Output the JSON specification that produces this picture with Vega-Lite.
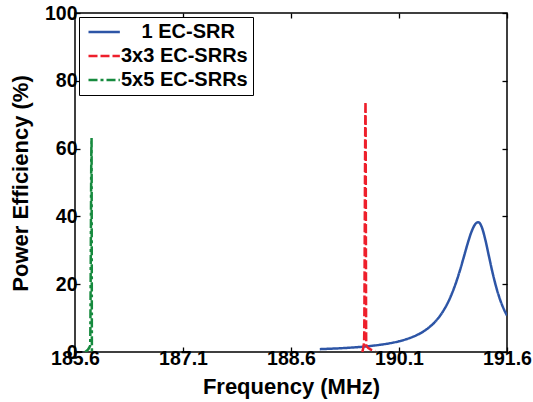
{
  "$schema": "https://vega.github.io/schema/vega-lite/v6.json",
  "width": 432,
  "height": 339,
  "autosize": "none",
  "padding": {"left": 75, "top": 13, "right": 26, "bottom": 50},
  "background": "white",
  "config": {
    "font": "Liberation Sans",
    "view": {"stroke": "black", "strokeWidth": 1.5},
    "axis": {
      "domain": false,
      "grid": false,
      "tickColor": "black",
      "tickSize": -5,
      "tickWidth": 1.3,
      "labelFont": "Liberation Sans",
      "labelFontWeight": "bold",
      "labelFontSize": 19.5,
      "labelColor": "black",
      "labelFlush": false,
      "labelOverlap": false,
      "titleFont": "Liberation Sans",
      "titleFontWeight": "bold",
      "titleFontSize": 22,
      "titleColor": "black"
    },
    "legend": {
      "orient": "none",
      "legendX": 4,
      "legendY": 4,
      "strokeColor": "black",
      "fillColor": "white",
      "padding": 5,
      "cornerRadius": 0,
      "labelFont": "Liberation Sans",
      "labelFontWeight": "bold",
      "labelFontSize": 20,
      "labelColor": "black",
      "labelOffset": 17,
      "rowPadding": 4,
      "symbolType": "M-1,0H4.7",
      "symbolSize": 121,
      "symbolStrokeWidth": 2.5,
      "title": null
    }
  },
  "data": {
    "values": [
      {"f": 189.0, "p": 0.84, "s": "1 EC-SRR"},
      {"f": 189.15, "p": 0.97, "s": "1 EC-SRR"},
      {"f": 189.3, "p": 1.12, "s": "1 EC-SRR"},
      {"f": 189.45, "p": 1.32, "s": "1 EC-SRR"},
      {"f": 189.6, "p": 1.56, "s": "1 EC-SRR"},
      {"f": 189.75, "p": 1.89, "s": "1 EC-SRR"},
      {"f": 189.9, "p": 2.32, "s": "1 EC-SRR"},
      {"f": 190.0, "p": 2.69, "s": "1 EC-SRR"},
      {"f": 190.1, "p": 3.16, "s": "1 EC-SRR"},
      {"f": 190.2, "p": 3.76, "s": "1 EC-SRR"},
      {"f": 190.3, "p": 4.54, "s": "1 EC-SRR"},
      {"f": 190.4, "p": 5.57, "s": "1 EC-SRR"},
      {"f": 190.5, "p": 6.96, "s": "1 EC-SRR"},
      {"f": 190.6, "p": 8.89, "s": "1 EC-SRR"},
      {"f": 190.7, "p": 11.62, "s": "1 EC-SRR"},
      {"f": 190.8, "p": 15.51, "s": "1 EC-SRR"},
      {"f": 190.9, "p": 20.97, "s": "1 EC-SRR"},
      {"f": 190.95, "p": 24.33, "s": "1 EC-SRR"},
      {"f": 191.0, "p": 28.0, "s": "1 EC-SRR"},
      {"f": 191.05, "p": 31.74, "s": "1 EC-SRR"},
      {"f": 191.1, "p": 35.08, "s": "1 EC-SRR"},
      {"f": 191.15, "p": 37.44, "s": "1 EC-SRR"},
      {"f": 191.175, "p": 38.08, "s": "1 EC-SRR"},
      {"f": 191.2, "p": 38.3, "s": "1 EC-SRR"},
      {"f": 191.225, "p": 37.92, "s": "1 EC-SRR"},
      {"f": 191.25, "p": 36.83, "s": "1 EC-SRR"},
      {"f": 191.3, "p": 33.02, "s": "1 EC-SRR"},
      {"f": 191.35, "p": 28.16, "s": "1 EC-SRR"},
      {"f": 191.4, "p": 23.35, "s": "1 EC-SRR"},
      {"f": 191.45, "p": 19.15, "s": "1 EC-SRR"},
      {"f": 191.5, "p": 15.7, "s": "1 EC-SRR"},
      {"f": 191.55, "p": 12.94, "s": "1 EC-SRR"},
      {"f": 191.6, "p": 10.76, "s": "1 EC-SRR"},
      {"f": 189.59, "p": 0, "s": "3x3 EC-SRRs"},
      {"f": 189.615, "p": 3, "s": "3x3 EC-SRRs"},
      {"f": 189.635, "p": 73.7, "s": "3x3 EC-SRRs"},
      {"f": 189.645, "p": 2, "s": "3x3 EC-SRRs"},
      {"f": 189.68, "p": 1.1, "s": "3x3 EC-SRRs"},
      {"f": 189.77, "p": 0.3, "s": "3x3 EC-SRRs"},
      {"f": 185.74, "p": 0, "s": "5x5 EC-SRRs"},
      {"f": 185.81, "p": 1.8, "s": "5x5 EC-SRRs"},
      {"f": 185.83, "p": 63.1, "s": "5x5 EC-SRRs"},
      {"f": 185.835, "p": 0.5, "s": "5x5 EC-SRRs"},
      {"f": 185.84, "p": 0, "s": "5x5 EC-SRRs"}
    ]
  },
  "layer": [
    {
      "mark": {"type": "line", "strokeWidth": 2.5, "clip": true, "interpolate": "monotone"},
      "encoding": {
        "x": {
          "field": "f", "type": "quantitative",
          "scale": {"domain": [185.6, 191.6], "nice": false, "zero": false},
          "axis": {"values": [185.6, 187.1, 188.6, 190.1, 191.6], "format": ".1f", "title": "Frequency (MHz)", "labelPadding": 2, "titleY": 41, "titleBaseline": "alphabetic"}
        },
        "y": {
          "field": "p", "type": "quantitative",
          "scale": {"domain": [0, 100], "nice": false},
          "axis": {"values": [0, 20, 40, 60, 80, 100], "title": "Power Efficiency (%)", "labelPadding": 3, "titleX": -43, "titleY": 170, "titleBaseline": "bottom"}
        },
        "color": {
          "field": "s", "type": "nominal",
          "scale": {"domain": ["1 EC-SRR", "3x3 EC-SRRs", "5x5 EC-SRRs"], "range": ["#2d55a6", "#ee1f2b", "#168a3e"]},
          "legend": {"labelExpr": "datum.label == '1 EC-SRR' ? '\u2800\u00a01 EC-SRR' : datum.label"}
        },
        "strokeDash": {
          "field": "s", "type": "nominal",
          "scale": {"domain": ["1 EC-SRR", "3x3 EC-SRRs", "5x5 EC-SRRs"], "range": [[1, 0], [9, 3], [9, 3, 3, 3]]},
          "legend": {"labelExpr": "datum.label == '1 EC-SRR' ? '\u2800\u00a01 EC-SRR' : datum.label"}
        }
      }
    },
    {
      "mark": {"type": "line", "opacity": 0},
      "encoding": {
        "x": {"field": "f", "type": "quantitative", "axis": {"orient": "top", "values": [185.6, 187.1, 188.6, 190.1, 191.6], "labels": false, "title": null}},
        "y": {"field": "p", "type": "quantitative", "axis": {"orient": "right", "values": [0, 20, 40, 60, 80, 100], "labels": false, "title": null}},
        "detail": {"field": "s"}
      }
    }
  ],
  "resolve": {"axis": {"x": "independent", "y": "independent"}}
}
